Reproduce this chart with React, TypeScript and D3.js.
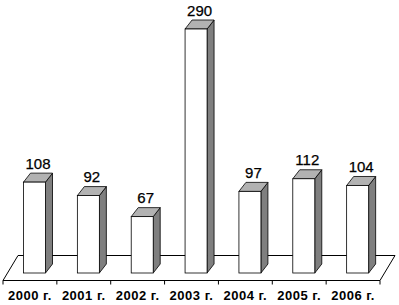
import React from "react";
import * as d3 from "d3";

const categories = ["2000 г.", "2001 г.", "2002 г.", "2003 г.", "2004 г.", "2005 г.", "2006 г."];
const values = [108, 92, 67, 290, 97, 112, 104];

const W = 399;
const H = 305;

export default function App() {
  const frontY = 280.5;
  const backY = 255.5;
  const floorDx = 15;
  const x = d3.scaleBand<string>().domain(categories).range([3, 380]).padding(0);
  const y = d3.scaleLinear().domain([0, 290]).range([273, 29]);
  const barOffset = 20.5;
  const barW = 22;
  const dx = 7;
  const dy = -9;

  const floor = `M${x.range()[0]},${frontY} L${x.range()[1]},${frontY} L${x.range()[1] + floorDx},${backY} L${x.range()[0] + floorDx},${backY} Z`;

  return (
    <svg width={W} height={H} style={{ position: "absolute", left: 0, top: 0, background: "#fff" }}>
      <rect x={0} y={0} width={W} height={H} fill="#fff" />
      <path d={floor} fill="#fff" stroke="#000" strokeWidth={1} />
      {categories.map((c, i) => (
        <line key={"t" + i} x1={(x(c) as number)} x2={(x(c) as number)} y1={frontY} y2={frontY + 4} stroke="#000" />
      ))}
      <line x1={x.range()[1]} x2={x.range()[1]} y1={frontY} y2={frontY + 4} stroke="#000" />
      {categories.map((c, i) => {
        const x0 = (x(c) as number) + barOffset;
        const x1 = x0 + barW;
        const yb = y(0);
        const yt = y(values[i]);
        const top = `M${x0},${yt} L${x1},${yt} L${x1 + dx},${yt + dy} L${x0 + dx},${yt + dy} Z`;
        const side = `M${x1},${yt} L${x1 + dx},${yt + dy} L${x1 + dx},${yb + dy} L${x1},${yb} Z`;
        return (
          <g key={c}>
            <path d={side} fill="#7f7f7f" stroke="#000" strokeWidth={0.8} />
            <path d={top} fill="#b2b2b2" stroke="#000" strokeWidth={0.8} />
            <rect x={x0} y={yt} width={barW} height={yb - yt} fill="#fff" stroke="#000" strokeWidth={0.8} />
            <text
              x={x0 + (barW + dx) / 2}
              y={yt - 13.5}
              textAnchor="middle"
              fontFamily="'Liberation Sans', Arial, sans-serif"
              fontSize={15}
              stroke="#000"
              strokeWidth={0.25}
              fill="#000"
            >
              {values[i]}
            </text>
          </g>
        );
      })}
      {categories.map((c) => (
        <text
          key={"l" + c}
          x={(x(c) as number) + x.bandwidth() / 2}
          y={300}
          textAnchor="middle"
          fontFamily="'Liberation Sans', Arial, sans-serif"
          fontSize={13}
          letterSpacing={0.5}
          fontWeight="bold"
          fill="#000"
        >
          {c}
        </text>
      ))}
    </svg>
  );
}
